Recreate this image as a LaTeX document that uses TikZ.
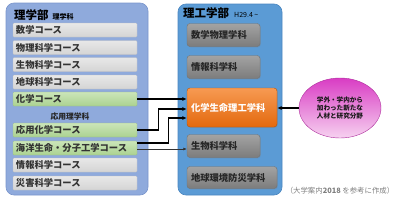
\documentclass[tikz,border=0pt]{standalone}
\usepackage{fontspec}
\setmainfont{Noto Sans CJK JP}
\usetikzlibrary{shapes.geometric,arrows.meta,shadows,calc}
\definecolor{lpanel}{HTML}{8FAADC}
\definecolor{lpaneld}{HTML}{7A95CC}
\definecolor{rpanel}{HTML}{5B9BD5}
\definecolor{rpaneld}{HTML}{4A86C0}
\definecolor{grayA}{HTML}{E8E8E8}
\definecolor{grayB}{HTML}{D4D4D4}
\definecolor{greenA}{HTML}{CBE5B9}
\definecolor{greenB}{HTML}{ABD290}
\definecolor{dgrayA}{HTML}{A3A3A3}
\definecolor{dgrayB}{HTML}{7C7C7C}
\definecolor{orA}{HTML}{F79A52}
\definecolor{orB}{HTML}{E3690E}
\definecolor{magA}{HTML}{D93CC4}
\definecolor{magB}{HTML}{F6D2F0}
\definecolor{captc}{HTML}{7F7F7F}
\begin{document}
\begin{tikzpicture}[x=1pt,y=-1pt,
  panelL/.style={draw=lpaneld, line width=0.6pt, fill=lpanel, rounded corners=8pt, inner sep=0pt},
  panelR/.style={draw=rpaneld, line width=0.6pt, fill=rpanel, rounded corners=8pt, inner sep=0pt},
  lbox/.style={minimum width=124pt, minimum height=14pt, inner xsep=3pt, inner ysep=0pt, text width=118pt, align=left,
     font=\fontsize{9.3}{10}\selectfont\bfseries, text=black!80, top color=grayA, bottom color=grayB, draw=grayB!90!black, line width=0.25pt,
     rounded corners=1pt},
  gbox/.style={lbox, top color=greenA, bottom color=greenB, draw=greenB!90!black},
  rbox/.style={minimum height=23pt, inner xsep=4pt, inner ysep=0pt, align=left, rounded corners=3pt,
     font=\fontsize{9.3}{10}\selectfont\bfseries, text=black!85, top color=dgrayA, bottom color=dgrayB, draw=black!55, line width=0.4pt,
     drop shadow={shadow xshift=0.8pt, shadow yshift=-0.8pt, opacity=0.35}},
  obox/.style={rbox, top color=orA, bottom color=orB, draw=orB!80!black, text=white},
  arr/.style={-{Latex[length=4.5pt,width=4pt]}, line width=1.2pt, black},
  arrthin/.style={-{Latex[length=3.5pt,width=3pt]}, line width=0.6pt, black!80}
]
\useasboundingbox (0,0) rectangle (400,201);
% panels
\node[panelL, minimum width=142pt, minimum height=192pt] (L) at (77,99) {};
\node[panelR, minimum width=104pt, minimum height=191pt] (R) at (230,99.5) {};
% titles
\node[anchor=west, inner sep=0pt, text=black] (Lt) at (14,15) {{\fontsize{11.5}{11}\selectfont\bfseries 理学部}\hspace{4pt}{\fontsize{7}{7}\selectfont\bfseries 理学科}};
\node[anchor=west, inner sep=0pt, text=black] (Rt) at (183,13.5) {{\fontsize{11.5}{11}\selectfont\bfseries 理工学部}\hspace{5pt}{\fontsize{7}{7}\selectfont H29.4 \textasciitilde}};
% left boxes
\node[lbox] (sugaku) at (75,30) {数学コース};
\node[lbox] (butsuri) at (75,47.5) {物理科学コース};
\node[lbox] (seibutsuL) at (75,64.5) {生物科学コース};
\node[lbox] (chikyu) at (75,82) {地球科学コース};
\node[gbox] (kagaku) at (75,99) {化学コース};
\node[inner sep=0pt, font=\fontsize{7.8}{8}\selectfont\bfseries, text=black!85] (ouyoulab) at (70,117) {応用理学科};
\node[gbox] (ouyou) at (75,130) {応用化学コース};
\node[gbox] (kaiyo) at (75,148) {海洋生命・分子工学コース};
\node[lbox] (johoL) at (75,165) {情報科学コース};
\node[lbox] (saigai) at (75,183) {災害科学コース};
% right boxes
\node[rbox, minimum width=73pt, text width=65pt] (sbutsuri) at (223.5,35) {数学物理学科};
\node[rbox, minimum width=73pt, text width=65pt] (johoR) at (223.5,67) {情報科学科};
\node[obox, minimum width=90pt, minimum height=39pt, text width=82pt] (orange) at (232,107.5) {化学生命理工学科};
\node[rbox, minimum width=73pt, text width=65pt] (seibutsuR) at (223.5,146) {生物科学科};
\node[rbox, minimum width=90pt, minimum height=22pt, text width=82pt] (chikyuR) at (232,177.5) {地球環境防災学科};
% ellipse
\node[ellipse, minimum width=82pt, minimum height=60pt, inner sep=0pt, draw=magA!80!black, line width=0.4pt,
  left color=magA, right color=magB, shading angle=0,
  align=center, font=\fontsize{6.6}{8.2}\selectfont\bfseries, text=black!90] (ell) at (340,108)
  {学外・学内から\\加わった新たな\\人材と研究分野};
% caption
\node[inner sep=0pt, font=\fontsize{7.4}{8}\selectfont, text=captc] (cap) at (340,191) {（大学案内\textbf{2018} を参考に作成）};
% connectors
\draw[arr] (kagaku.east) -- (orange.west |- kagaku.east);
\draw[arr] (ouyou.east) -- ++(21,0) |- ($(orange.west)+(0,1.5)$);
\coordinate (k1) at ($(kaiyo.east)+(0,-5)$);
\coordinate (k2) at ($(kaiyo.east)+(0,1)$);
\draw[arr] (k1) -- ++(31,0) |- ($(orange.west)+(0,10.5)$);
\draw[arrthin] (k2) -- (seibutsuR.west |- k2);
\draw[arr] (ell.west) -- (orange.east |- ell.west);
\end{tikzpicture}
\end{document}
